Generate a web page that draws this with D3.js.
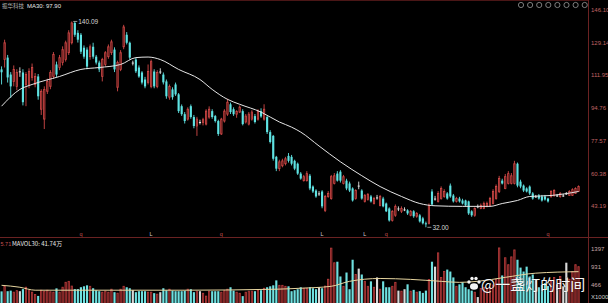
<!DOCTYPE html>
<html>
<head>
<meta charset="utf-8">
<script src="https://cdn.jsdelivr.net/npm/d3@7"></script>
<style>
  html, body { margin: 0; padding: 0; background: #000; overflow: hidden; }
</style>
</head>
<body>
<div id="chart"></div>
<script>
// stock + labels
const stockName = "振华科技";
const maText = "MA30: 97.90";
const volText = "5.71";
const mavolText = "MAVOL30: 41.74万";
const watermark = "@一盏灯的时间";

const priceTicks = [146.10, 129.14, 111.95, 94.76, 77.57, 60.38, 43.19];
const volTicks = [1397, 931, 466];

// [open, high, low, close] per day
const ohlc = [
  [114.9,116.5,107.0,113.4],[120.1,130.5,115.9,128.9],[121.1,122.5,108.0,110.7],[112.2,113.5,100.0,106.0],
  [108.6,117.0,106.0,114.9],[106.0,115.0,104.0,113.3],[113.9,116.0,111.0,113.7],[113.3,115.0,96.0,97.7],
  [107.0,113.5,95.6,112.2],[107.0,115.5,105.0,113.9],[110.7,118.0,109.0,115.9],[107.0,113.0,105.5,111.2],
  [111.2,112.5,99.0,100.8],[94.0,104.5,91.0,103.4],[88.8,106.0,83.6,104.4],[103.4,110.0,102.0,108.6],
  [106.0,114.5,104.5,113.3],[111.2,124.0,110.0,122.7],[117.5,119.0,111.0,112.2],[115.9,122.5,114.5,121.1],
  [118.5,127.0,117.0,125.3],[120.1,130.0,119.0,128.9],[123.7,135.5,122.5,134.1],[128.9,140.09,128.0,139.3],
  [139.3,140.0,132.0,133.1],[134.1,135.5,129.0,130.5],[133.1,134.0,123.0,124.2],[126.3,127.5,120.5,121.6],
  [125.3,126.5,115.0,116.4],[121.6,128.0,120.0,126.8],[126.8,128.9,120.5,121.6],[121.6,122.5,117.5,118.5],
  [118.5,119.5,113.5,114.9],[111.2,121.0,108.6,120.1],[117.5,124.5,116.5,123.7],[121.6,128.0,120.5,126.8],
  [123.7,130.5,122.5,129.4],[125.3,126.5,113.5,114.9],[105.5,119.5,103.4,118.5],[114.9,125.0,114.0,123.7],
  [126.8,138.3,125.5,137.2],[133.1,134.5,128.0,128.9],[128.9,129.5,120.0,121.1],[118.5,119.5,117.0,118.3],
  [120.1,121.0,113.0,113.9],[115.9,117.0,110.5,111.2],[113.3,114.0,107.0,108.0],[109.6,111.0,105.0,106.0],
  [108.1,117.5,107.0,113.8],[106.0,120.1,105.0,119.0],[113.8,115.0,105.0,106.0],[106.0,114.5,105.0,113.3],
  [113.8,115.5,112.5,113.6],[112.2,113.3,107.0,108.1],[108.6,109.6,99.5,100.8],[100.3,107.0,99.0,106.0],
  [104.4,105.5,99.0,100.3],[107.0,108.0,101.0,101.8],[101.8,102.5,92.0,93.0],[95.6,96.5,90.5,91.4],
  [91.4,92.5,86.5,87.8],[88.8,95.0,88.0,94.0],[95.6,96.5,89.0,89.9],[89.9,91.0,84.0,85.2],
  [85.2,90.0,80.0,88.8],[87.3,88.5,86.0,87.1],[87.0,89.5,85.5,88.5],[86.2,94.0,85.5,93.0],
  [89.9,95.5,89.0,94.0],[93.0,94.0,89.0,89.9],[90.4,91.0,87.0,87.8],[87.8,88.5,80.0,81.0],
  [81.0,89.5,80.5,88.8],[87.8,94.0,87.0,93.0],[91.4,99.5,90.5,97.7],[96.6,97.5,91.5,92.5],
  [94.0,95.0,90.5,91.4],[91.4,93.5,89.5,92.8],[92.5,96.0,92.0,95.1],[93.0,94.0,85.5,86.2],
  [87.3,91.5,86.5,90.4],[86.2,92.5,85.5,91.4],[88.8,93.5,88.0,92.5],[90.4,91.5,86.5,87.3],
  [88.8,94.0,88.0,93.0],[93.0,94.5,89.5,90.2],[88.8,96.6,88.0,94.0],[89.9,90.5,81.0,82.0],
  [82.0,83.0,76.0,76.8],[80.0,80.5,67.0,68.0],[69.0,69.5,61.5,62.8],[62.8,67.5,61.5,66.4],
  [64.3,68.0,63.5,66.9],[65.4,69.0,64.5,68.0],[69.5,71.0,66.0,66.9],[69.0,70.0,64.5,65.4],
  [66.9,67.5,62.0,62.8],[65.4,66.0,59.5,60.2],[60.2,61.0,57.0,57.6],[56.5,59.5,56.0,58.6],
  [56.5,61.5,56.0,60.2],[59.1,60.0,51.5,52.4],[53.4,54.0,50.0,50.8],[51.3,52.0,47.5,48.2],
  [49.8,51.0,48.5,49.6],[50.8,51.5,42.0,43.0],[40.9,49.0,40.0,48.2],[48.2,51.0,47.5,49.8],
  [47.1,59.5,46.5,58.6],[55.0,60.5,54.5,59.1],[60.2,61.5,56.0,56.5],[61.2,62.0,55.5,56.5],
  [55.0,59.5,54.5,58.6],[56.5,57.5,51.5,52.4],[55.0,56.0,50.5,51.3],[52.4,53.0,45.5,46.1],
  [47.1,52.0,46.5,51.3],[53.9,56.0,52.0,53.7],[51.3,52.0,46.5,47.1],[45.6,49.5,45.0,48.7],
  [46.6,50.0,46.0,49.2],[48.2,49.0,45.0,45.6],[44.5,48.0,44.0,47.1],[47.7,49.0,46.5,47.5],
  [43.5,49.0,43.0,48.2],[47.1,48.0,42.5,43.0],[44.5,45.0,40.0,40.4],[41.9,42.5,35.0,35.6],
  [35.6,41.0,35.0,40.4],[38.3,44.0,37.5,43.0],[41.9,43.0,40.5,41.7],[40.4,43.0,39.5,41.9],
  [41.4,42.5,40.5,41.2],[40.9,41.5,38.5,39.3],[38.3,41.0,37.8,40.4],[40.4,41.0,37.0,37.8],
  [37.8,40.0,37.0,39.3],[38.3,39.0,34.5,35.1],[36.7,37.5,33.5,34.1],[34.1,35.0,32.0,33.6],
  [34.1,44.5,33.5,43.5],[50.8,52.0,43.5,44.0],[47.1,48.5,46.0,46.9],[45.6,51.0,45.0,49.8],
  [47.1,53.5,46.5,52.4],[48.2,52.0,47.5,50.8],[49.8,50.5,46.5,47.1],[53.9,55.0,47.5,48.2],
  [48.7,49.5,45.0,45.6],[45.6,48.0,45.0,47.1],[47.1,48.0,45.0,45.6],[46.1,47.0,44.0,44.5],
  [46.1,46.5,43.0,43.5],[45.6,46.0,38.5,39.3],[40.4,41.0,37.5,38.3],[38.3,42.5,37.5,41.9],
  [43.0,44.0,42.0,42.8],[41.9,44.5,41.5,43.5],[41.9,45.5,41.5,44.5],[43.0,45.5,42.5,44.5],
  [43.5,48.0,43.0,47.1],[44.5,52.0,44.0,50.8],[47.1,54.5,46.5,53.4],[50.8,59.0,50.0,57.6],
  [56.5,57.5,54.5,55.0],[52.4,60.0,52.0,58.6],[55.0,61.5,54.5,60.2],[55.0,60.5,54.5,59.1],
  [55.0,66.9,54.5,65.4],[65.4,66.0,53.0,53.9],[56.0,57.0,52.5,53.4],[53.9,54.5,50.5,51.3],
  [52.4,53.0,50.3,50.8],[53.4,54.0,49.0,49.8],[49.8,50.5,46.5,47.1],[48.2,49.0,47.5,48.0],
  [48.7,49.5,46.5,47.1],[48.2,49.0,45.5,46.1],[48.2,49.0,46.0,46.6],[47.1,47.5,45.0,45.6],
  [48.2,51.5,47.5,50.8],[48.7,52.0,48.0,51.3],[48.7,49.5,48.0,48.5],[48.2,50.5,47.5,49.8],
  [48.7,49.5,48.0,48.5],[49.8,50.5,49.0,49.6],[48.7,51.5,48.5,50.8],[48.7,52.5,48.5,51.8],
  [49.8,53.0,49.5,52.4],[50.8,54.0,50.5,53.4]
];

// volume, x1000
const volume = [
  280,410,285,300,260,300,285,340,390,300,
  260,200,160,310,285,310,270,260,360,260,
  390,520,545,420,340,340,390,414,440,414,
  363,311,285,259,285,259,337,259,233,337,
  414,389,363,311,259,285,285,285,260,259,
  233,207,259,363,311,337,300,285,285,285,
  300,337,337,259,285,285,230,155,285,285,
  285,285,259,300,337,389,300,259,230,155,
  259,285,285,285,311,311,363,389,414,440,
  570,440,440,414,414,285,311,337,389,360,
  360,389,363,337,389,363,420,600,1420,1035,
  1062,673,414,777,337,1114,725,880,725,545,
  414,545,389,648,337,545,389,389,414,518,
  300,285,337,466,285,320,259,285,240,300,
  596,1062,932,1295,648,803,855,803,648,414,
  466,518,389,337,300,259,130,360,389,337,
  389,450,600,1425,700,1166,984,1190,1373,1114,
  907,803,932,673,725,596,389,450,500,420,
  545,648,466,673,414,1036,600,803,984,932
];

// [day index, value]
const ma30 = [
  [0,95.6],[6,104.4],[10,107.0],[19,111.2],[26,114.9],[32,115.9],[39,117.5],[44,121.1],
  [48,121.4],[52,120.1],[58,114.9],[65,109.6],[69,104.4],[74,99.2],[78,96.6],[85,92.5],
  [91,87.3],[95,84.6],[98,82.0],[104,74.7],[111,66.4],[118,59.1],[124,53.4],[131,48.2],
  [137,44.5],[142,43.3],[151,43.0],[160,43.0],[164,44.5],[169,46.1],[173,48.2],[180,48.7],[189,50.8]
];
const mavol30 = [
  [0,440],[6,389],[11,311],[30,311],[60,311],[90,337],[98,363],[108,414],[114,545],
  [124,620],[134,596],[144,545],[150,518],[156,545],[165,650],[175,760],[189,800]
];

// small event marks under the price panel
const markers = [[26,"q"],[49,"L"],[72,"q"],[105,"L"],[119,"L"],[126,"q"],[179,"q"]];

const width = 608, height = 303;
const axisX = 588.5;
const sepY = 237.5;

const svg = d3.select("#chart").append("svg")
  .attr("width", width)
  .attr("height", height)
  .style("background", "#000")
  .style("display", "block");

const x = d3.scaleBand()
  .domain(d3.range(ohlc.length))
  .range([0.48, 579.6])
  .paddingInner(0.3);
const cx = i => x(i) + x.bandwidth() / 2;

const y = d3.scaleLinear().domain([43.19, 146.10]).range([206, 10]);
const vy = d3.scaleLinear().domain([0, 1397]).range([302, 249]);

const RED = "#d24a48", RED_FILL = "#4a1010", CYAN = "#5fe3e3", WHITE = "#e2e2e2";
const kind = d => d[3] - d[0] > 0.25 ? "up" : (d[0] - d[3] > 0.25 ? "down" : "flat");
const col = d => ({ up: RED, down: CYAN, flat: WHITE })[kind(d)];

// frame lines
svg.append("line").attr("x1", 0).attr("x2", axisX).attr("y1", 0.5).attr("y2", 0.5)
  .attr("stroke", "#4a1616");
svg.append("line").attr("x1", axisX).attr("x2", axisX).attr("y1", 0).attr("y2", height)
  .attr("stroke", "#6a2222");
svg.append("line").attr("x1", 0).attr("x2", width).attr("y1", sepY).attr("y2", sepY)
  .attr("stroke", "#6a2222");

// candles
const candle = svg.append("g").selectAll("g")
  .data(ohlc)
  .enter()
  .append("g");

candle.append("line")
  .attr("x1", (d, i) => cx(i))
  .attr("x2", (d, i) => cx(i))
  .attr("y1", d => y(d[1]))
  .attr("y2", d => y(d[2]))
  .attr("stroke", col)
  .attr("stroke-width", 0.9);

candle.append("rect")
  .attr("x", (d, i) => x(i) + (kind(d) === "up" ? 0.4 : 0))
  .attr("width", d => x.bandwidth() - (kind(d) === "up" ? 0.8 : 0))
  .attr("y", d => y(Math.max(d[0], d[3])))
  .attr("height", d => Math.max(1, Math.abs(y(d[0]) - y(d[3]))))
  .attr("fill", d => kind(d) === "up" ? RED_FILL : col(d))
  .attr("stroke", d => kind(d) === "up" ? RED : "none")
  .attr("stroke-width", 0.8);

// MA30
svg.append("path")
  .datum(ma30)
  .attr("fill", "none")
  .attr("stroke", "#e6e6e6")
  .attr("stroke-width", 1)
  .attr("d", d3.line().curve(d3.curveMonotoneX).x(d => cx(d[0])).y(d => y(d[1])));

// high / low tags
const hiIdx = d3.maxIndex(ohlc, d => d[1]);
const loIdx = d3.minIndex(ohlc, d => d[2]);
[[hiIdx, ohlc[hiIdx][1]], [loIdx, ohlc[loIdx][2]]].forEach(([i, v]) => {
  svg.append("line")
    .attr("x1", cx(i) + 1.5).attr("x2", cx(i) + 5.5)
    .attr("y1", y(v)).attr("y2", y(v))
    .attr("stroke", "#cfcfcf").attr("stroke-width", 0.7);
  svg.append("text")
    .attr("x", cx(i) + 6.5).attr("y", y(v)).attr("dy", "0.35em")
    .attr("fill", "#d8d8d8")
    .style("font", "6.5px 'Liberation Sans', Arial, sans-serif")
    .text(d3.format(".2f")(v));
});

// event marks
svg.append("g").selectAll("text")
  .data(markers)
  .enter()
  .append("text")
  .attr("x", d => cx(d[0]))
  .attr("y", sepY - 1.5)
  .attr("text-anchor", "middle")
  .attr("fill", d => d[1] === "L" ? "#cfcfcf" : "#c05050")
  .style("font", "5.5px 'Liberation Sans', Arial, sans-serif")
  .text(d => d[1]);

// volume bars
svg.append("g").selectAll("rect")
  .data(volume)
  .enter()
  .append("rect")
  .attr("x", (d, i) => x(i) + (kind(ohlc[i]) === "up" ? 0.4 : 0))
  .attr("width", (d, i) => x.bandwidth() - (kind(ohlc[i]) === "up" ? 0.8 : 0))
  .attr("y", d => vy(d))
  .attr("height", d => vy(0) - vy(d) + 2)
  .attr("fill", (d, i) => kind(ohlc[i]) === "up" ? "#5a1616" : (kind(ohlc[i]) === "down" ? "#6fe0e0" : "#d8d8d8"))
  .attr("stroke", (d, i) => kind(ohlc[i]) === "up" ? "#b83c3c" : "none")
  .attr("stroke-width", 0.8);

// MAVOL30
svg.append("path")
  .datum(mavol30)
  .attr("fill", "none")
  .attr("stroke", "#e8d6a0")
  .attr("stroke-width", 1)
  .attr("d", d3.line().curve(d3.curveMonotoneX).x(d => cx(d[0])).y(d => vy(d[1])));

// right axes
const priceAxis = svg.append("g")
  .attr("transform", `translate(${axisX},0)`)
  .call(d3.axisRight(y).tickValues(priceTicks).tickSize(0).tickPadding(2.5).tickFormat(d3.format(".2f")));
const volAxis = svg.append("g")
  .attr("transform", `translate(${axisX},0)`)
  .call(d3.axisRight(vy).tickValues(volTicks).tickSize(0).tickPadding(2.5).tickFormat(d3.format("d")));
[priceAxis, volAxis].forEach(g => {
  g.select(".domain").remove();
  g.selectAll("text")
    .attr("fill", "#c06464")
    .style("font", "6px 'Liberation Sans', Arial, sans-serif");
});
volAxis.selectAll("text").attr("fill", "#c8a8a8");
svg.append("text")
  .attr("x", axisX + 2.5).attr("y", 299)
  .attr("fill", "#cccccc")
  .style("font", "6px 'Liberation Sans', Arial, sans-serif")
  .text("X1000");

// header texts
svg.append("text")
  .attr("x", 2).attr("y", 8)
  .attr("fill", "#b8b8b8")
  .style("font", "5.5px 'Noto Sans CJK SC', sans-serif")
  .text(stockName);
svg.append("text")
  .attr("x", 27).attr("y", 8)
  .attr("fill", "#e8e8e8")
  .style("font", "6px 'Liberation Sans', Arial, sans-serif")
  .text(maText);

svg.append("text")
  .attr("x", 0.5).attr("y", 245.5)
  .attr("fill", "#c05050")
  .style("font", "5.5px 'Liberation Sans', Arial, sans-serif")
  .text(volText);
svg.append("text")
  .attr("x", 12).attr("y", 245.5)
  .attr("fill", "#e8e8e8")
  .style("font", "6px 'Noto Sans CJK SC', sans-serif")
  .text(mavolText);

// toolbar icons top right
const icons = svg.append("g");
d3.range(8).forEach(k => {
  icons.append("circle")
    .attr("cx", 521 + k * 9.1).attr("cy", 5)
    .attr("r", 2.6)
    .attr("fill", "none")
    .attr("stroke", "#9a9a9a")
    .attr("stroke-width", 0.8);
});

// watermark
const paw = svg.append("g").attr("transform", "translate(474,284)").attr("fill", "#f4f4f4");
paw.append("ellipse").attr("cx", 0).attr("cy", 2.5).attr("rx", 4).attr("ry", 3.2);
[[-5, -2], [-2, -5.5], [2, -5.5], [5, -2]].forEach(([px, py]) => {
  paw.append("circle").attr("cx", px).attr("cy", py).attr("r", 1.7);
});
svg.append("text")
  .attr("x", 481).attr("y", 290)
  .attr("fill", "#f6f6f6")
  .attr("stroke", "rgba(0,0,0,0.35)")
  .attr("stroke-width", 0.6)
  .style("paint-order", "stroke")
  .style("font", "15px 'Noto Sans CJK SC', sans-serif")
  .text(watermark);
</script>
</body>
</html>
